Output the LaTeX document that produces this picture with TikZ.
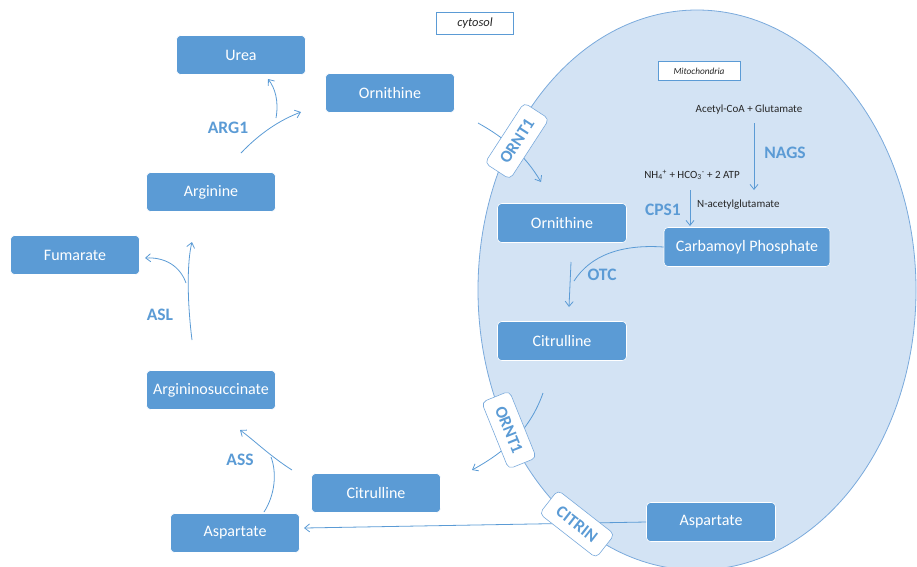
\documentclass[tikz,border=0pt]{standalone}
\usepackage{fontspec}
\setmainfont{Carlito}
\usetikzlibrary{arrows.meta}
\definecolor{boxblue}{HTML}{5B9BD5}
\definecolor{mito}{HTML}{D3E3F4}
\definecolor{mitoline}{HTML}{7AAADC}
\definecolor{txt}{HTML}{262626}
\begin{document}
\begin{tikzpicture}[x=1pt,y=-1pt,
 met/.style={rectangle,rounded corners=4pt,fill=boxblue,draw=white,line width=0.6pt,text=white,font=\fontsize{16}{18}\selectfont,minimum height=39pt,minimum width=129pt,inner sep=0pt},
 enz/.style={text=boxblue,font=\bfseries\fontsize{17.5}{20}\selectfont,inner sep=0pt},
 arr/.style={draw=boxblue,line width=0.8pt,-{Straight Barb[length=5pt,width=8pt]}},
 ln/.style={draw=boxblue,line width=0.8pt},
 tag/.style={rectangle,rounded corners=5pt,fill=white,draw=mitoline,line width=0.6pt,text=boxblue,font=\bfseries\fontsize{17}{19}\selectfont,minimum height=30pt,minimum width=72pt,inner sep=0pt},
 small/.style={text=txt,font=\fontsize{11}{13}\selectfont,inner sep=0pt},
 lbl/.style={rectangle,fill=white,draw=boxblue,line width=0.6pt,text=txt,font=\itshape\fontsize{12.5}{14}\selectfont,inner sep=0pt}]

\useasboundingbox (0,0) rectangle (917,566);
\begin{scope}
\clip (0,0) rectangle (917,566);
\draw[fill=mito,draw=mitoline,line width=0.8pt] (697,290) ellipse [x radius=219, y radius=280];
\end{scope}

% labels
\node[lbl,minimum width=77pt,minimum height=22pt] (cyt) at (475,23) {cytosol};
\node[lbl,minimum width=82pt,minimum height=19pt,font=\itshape\fontsize{9.3}{11}\selectfont] (mitl) at (699,71) {Mitochondria};

% metabolite boxes
\node[met] (urea) at (241,55) {Urea};
\node[met] (orn) at (390,93) {Ornithine};
\node[met] (arg) at (211,192) {Arginine};
\node[met] (fum) at (75,255) {Fumarate};
\node[met] (asuc) at (211,390) {Argininosuccinate};
\node[met] (cit) at (376,493) {Citrulline};
\node[met] (asp) at (235,533) {Aspartate};
\node[met] (morn) at (562,223) {Ornithine};
\node[met,minimum width=166pt] (cp) at (747,247) {Carbamoyl Phosphate};
\node[met] (mcit) at (562,341) {Citrulline};
\node[met] (masp) at (711,522) {Aspartate};

% small texts
\node[small] (acg) at (749,110) {Acetyl-CoA + Glutamate};
\node[small] (nh4) at (692,175) {NH\textsubscript{4}\textsuperscript{+} + HCO\textsubscript{3}\textsuperscript{-} + 2 ATP};
\node[small,anchor=west] (nag) at (697,205) {N-acetylglutamate};

% enzyme labels
\node[enz] (nags) at (785,153) {NAGS};
\node[enz] (cps) at (663,210) {CPS1};
\node[enz] (otc) at (602,275) {OTC};
\node[enz] (arg1) at (228,128) {ARG1};
\node[enz] (asl) at (160,315) {ASL};
\node[enz] (ass) at (240,460) {ASS};

% coordinates
\coordinate (n1) at (754,123);
\coordinate (n2) at (754,190);
\coordinate (c1) at (690,190);
\coordinate (c2) at (690,226);
\coordinate (o1) at (571,262);
\coordinate (o2) at (569,307);
\coordinate (o3) at (574,281);
\coordinate (a1) at (241,153);
\coordinate (a2) at (301,112);
\coordinate (a3) at (276,118);
\coordinate (a4) at (268,79);
\coordinate (l1) at (192,340);
\coordinate (l2) at (192,242);
\coordinate (l3) at (186,283);
\coordinate (l4) at (145,258);
\coordinate (s1) at (292,470);
\coordinate (s2) at (240,430);
\coordinate (s3) at (264,512);
\coordinate (s4) at (271,457);
\coordinate (t1) at (478,123);
\coordinate (t2) at (541,182);
\coordinate (b1) at (543,393);
\coordinate (b2) at (472,470);
\coordinate (r2) at (304,528);

% arrows
\draw[arr] (n1) -- (n2);
\draw[arr] (c1) -- (c2);
\draw[arr] (o1) -- (o2);
\draw[ln] (cp.west) .. controls (620,244) and (590,256) .. (o3);
\draw[arr] (a1) .. controls (260,133) and (280,120) .. (a2);
\draw[arr] (a3) .. controls (279,101) and (275,88) .. (a4);
\draw[arr] (l1) .. controls (187,300) and (187,262) .. (l2);
\draw[arr] (l3) .. controls (180,266) and (165,257) .. (l4);
\draw[arr] (s1) .. controls (270,456) and (255,441) .. (s2);
\draw[ln] (s3) .. controls (275,495) and (277,473) .. (s4);
\draw[arr] (t1) .. controls (505,138) and (525,155) .. (t2);
\draw[arr] (b1) .. controls (530,430) and (505,452) .. (b2);
\draw[arr] (masp.west) -- (r2);

% transporter tags
\node[tag,rotate=57] (ornt1a) at (517,141) {ORNT1};
\node[tag,rotate=-68] (ornt1b) at (509,430) {ORNT1};
\node[tag,rotate=-38] (citrin) at (577,524) {CITRIN};
\end{tikzpicture}
\end{document}
